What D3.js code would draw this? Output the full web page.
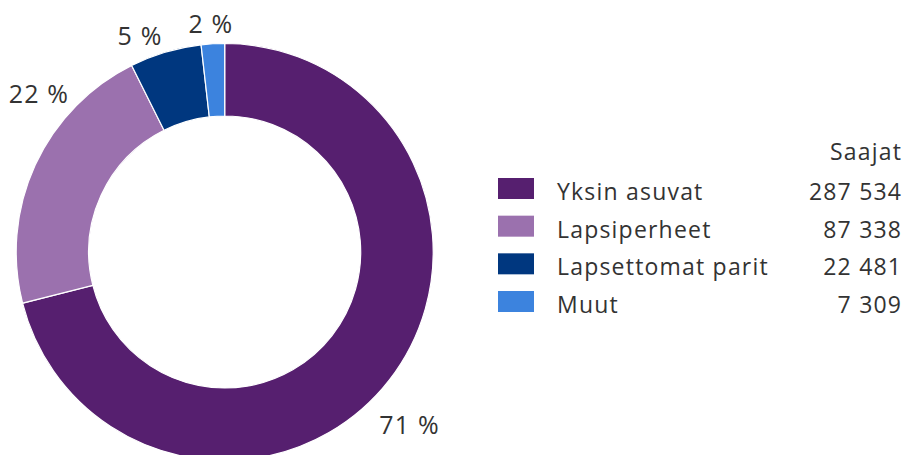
<!DOCTYPE html>
<html><head><meta charset="utf-8">
<script src="https://cdn.jsdelivr.net/npm/d3@7"></script>
<style>
html,body{margin:0;padding:0;background:#fff;}
svg{display:block;font-family:"Open Sans",sans-serif;}
</style></head>
<body>
<script>
const categories = ["Yksin asuvat", "Lapsiperheet", "Lapsettomat parit", "Muut"];
const values = [287534, 87338, 22481, 7309];
const valueLabels = ["287 534", "87 338", "22 481", "7 309"];
const pctLabels = ["71 %", "22 %", "5 %", "2 %"];
const colors = ["#561f6f", "#9b71ae", "#00377f", "#3c83de"];
const headerLabel = "Saajat";

// label placement (angle in degrees clockwise from top, radius)
const labelPlace = [{a:133.2, r:252.8}, {a:310.3, r:244.4}, {a:338.5, r:232.4}, {a:356.4, r:228.3}];

const W = 904, H = 455;
const cx = 224.7, cy = 252, rOuter = 208.5, rInner = 136;
const svg = d3.select("body").append("svg").attr("width", W).attr("height", H);

const pie = d3.pie().sort(null).value(d => d)(values);
const arc = d3.arc().innerRadius(rInner).outerRadius(rOuter);
const g = svg.append("g").attr("transform", `translate(${cx},${cy})`);
g.selectAll("path").data(pie).join("path")
  .attr("d", arc).attr("fill", (d,i) => colors[i])
  .attr("stroke", "#fff").attr("stroke-width", 1.2);

const ls = 1.2;
g.selectAll("text.pct").data(pie).join("text").attr("class","pct")
  .attr("x", (d,i) => labelPlace[i].r * Math.sin(labelPlace[i].a*Math.PI/180) + ls/2)
  .attr("y", (d,i) => -labelPlace[i].r * Math.cos(labelPlace[i].a*Math.PI/180))
  .attr("dy", "0.36em")
  .attr("text-anchor","middle")
  .attr("font-size", 25).attr("letter-spacing", ls).attr("fill", "#333")
  .text((d,i) => pctLabels[i]);

// legend
const lg = svg.append("g").attr("font-size", 23).attr("letter-spacing", ls).attr("fill", "#333");
const rowY = d3.scalePoint().domain(categories).range([200, 313]);
lg.append("text").attr("x", 901 + ls).attr("y", 160).attr("text-anchor","end").text(headerLabel);
categories.forEach((c,i) => {
  const y = rowY(c);
  lg.append("rect").attr("x", 498).attr("y", y - 11.5 - 10.5).attr("width", 36).attr("height", 21).attr("fill", colors[i]);
  lg.append("text").attr("x", 557).attr("y", y).text(c);
  lg.append("text").attr("x", 901 + ls).attr("y", y).attr("text-anchor","end").text(valueLabels[i]);
});
</script>
</body></html>
